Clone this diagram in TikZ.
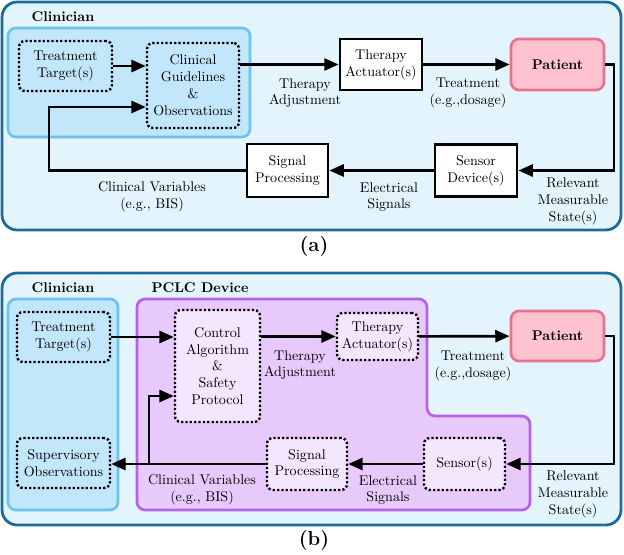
\documentclass[tikz,border=0pt]{standalone}
\usepackage{amsmath}
\usetikzlibrary{arrows.meta,shapes}

\definecolor{panelfill}{HTML}{E3F4FC}
\definecolor{paneledge}{HTML}{1B6C9C}
\definecolor{clinfill}{HTML}{C3E7FA}
\definecolor{clinedge}{HTML}{6DC2EE}
\definecolor{pclcfill}{HTML}{E8C9FB}
\definecolor{pclcedge}{HTML}{B462EA}
\definecolor{innerfill}{HTML}{F4E6FD}
\definecolor{patfill}{HTML}{FFC2CF}
\definecolor{patedge}{HTML}{E9728E}

\begin{document}
\begin{tikzpicture}[x=0.025cm,y=-0.025cm,
    solidbox/.style={draw,line width=1.9pt,fill=white,align=center,inner sep=1pt},
    dotbox/.style={draw,line width=1.7pt,dash pattern=on 1.6pt off 1.5pt,rounded corners=0.15cm,align=center,inner sep=1pt},
    patbox/.style={draw=patedge,fill=patfill,line width=1.9pt,rounded corners=0.2cm,font=\bfseries},
    flow/.style={line width=1.9pt,-{Triangle[length=0.36cm,width=0.3cm]}},
    lbl/.style={align=center,inner sep=0pt}]
\useasboundingbox (0,0) rectangle (624,554);
% ---------------- (a) ----------------
\draw[paneledge,fill=panelfill,line width=2pt,rounded corners=0.38cm] (2,2) rectangle (621,230);
\draw[clinedge,fill=clinfill,line width=1.9pt,rounded corners=0.2cm] (8,28) rectangle (250,137);
\node[lbl,font=\bfseries] (clinA) at (63,17) {Clinician};
\node[dotbox,minimum width=2.325cm,minimum height=1.25cm] (ttA) at (65.5,66) {Treatment\\Target(s)};
\node[dotbox,minimum width=2.3cm,minimum height=2.125cm] (cgA) at (193,85.5) {Clinical\\Guidelines\\\&\\Observations};
\node[solidbox,minimum width=2.05cm,minimum height=1.275cm] (taA) at (381,64.5) {Therapy\\Actuator(s)};
\node[patbox,minimum width=2.325cm,minimum height=1.275cm] (patA) at (557.5,64.5) {Patient};
\node[solidbox,minimum width=2.05cm,minimum height=1.3cm] (sdA) at (476,170.5) {Sensor\\Device(s)};
\node[solidbox,minimum width=2.025cm,minimum height=1.325cm] (spA) at (287.5,170.5) {Signal\\Processing};
\coordinate (turnA) at (614,170.5);
\coordinate (fbA) at (49,107);
\draw[flow] (ttA.east) -- (ttA.east -| cgA.west);
\draw[flow] (taA.west -| cgA.east) -- (taA.west);
\draw[flow] (taA) -- (patA);
\draw[flow] (patA.east) -| (turnA) -- (sdA.east);
\draw[flow] (sdA) -- (spA);
\draw[flow] (spA.west) -| (fbA) -- (fbA -| cgA.west);
\node[lbl] (adjA) at (305,93) {Therapy\\Adjustment};
\node[lbl] (trtA) at (468,93) {Treatment\\(e.g.,dosage)};
\node[lbl] (relA) at (573,201) {Relevant\\Measurable\\State(s)};
\node[lbl] (elecA) at (389,197) {Electrical\\Signals};
\node[lbl] (varA) at (152,197) {Clinical Variables\\(e.g., BIS)};
\node[lbl,font=\Large\bfseries] (capA) at (314,246) {(a)};
% ---------------- (b) ----------------
\draw[paneledge,fill=panelfill,line width=2pt,rounded corners=0.38cm] (2,273) rectangle (621,525);
\draw[clinedge,fill=clinfill,line width=1.9pt,rounded corners=0.2cm] (8,299) rectangle (118,510);
\draw[pclcedge,fill=pclcfill,line width=1.9pt,rounded corners=0.2cm] (137,299) -- (427,299) -- (427,416) -- (530,416) -- (530,510) -- (137,510) -- cycle;
\node[lbl,font=\bfseries] (clinB) at (63,288) {Clinician};
\node[lbl,font=\bfseries] (pclcB) at (200,288) {PCLC Device};
\node[dotbox,minimum width=2.325cm,minimum height=1.25cm] (ttB) at (63.5,337) {Treatment\\Target(s)};
\node[dotbox,minimum width=2.325cm,minimum height=1.25cm] (svB) at (63.5,463) {Supervisory\\Observations};
\node[dotbox,fill=innerfill,minimum width=2.125cm,minimum height=2.8cm] (caB) at (217.5,366) {Control\\Algorithm\\\&\\Safety\\Protocol};
\node[dotbox,fill=innerfill,minimum width=2.025cm,minimum height=1.175cm] (taB) at (377.5,336.5) {Therapy\\Actuator(s)};
\node[patbox,minimum width=2.325cm,minimum height=1.25cm] (patB) at (557.5,336) {Patient};
\node[dotbox,fill=innerfill,minimum width=2.025cm,minimum height=1.3cm] (snB) at (464.5,464) {Sensor(s)};
\node[dotbox,fill=innerfill,minimum width=2.0cm,minimum height=1.3cm] (spB) at (307,464) {Signal\\Processing};
\coordinate (turnB) at (614,464);
\coordinate (brB) at (149,464);
\coordinate (upB) at (149,396);
\draw[flow] (ttB.east) -- (ttB.east -| caB.west);
\draw[flow] (taB.west -| caB.east) -- (taB.west);
\draw[flow] (taB) -- (patB);
\draw[flow] (patB.east) -| (turnB) -- (snB.east);
\draw[flow] (snB) -- (spB);
\draw[flow] (spB.west) -- (spB.west -| svB.east);
\draw[flow] (brB) -- (upB) -- (upB -| caB.west);
\node[lbl] (adjB) at (300,365) {Therapy\\Adjustment};
\node[lbl] (trtB) at (473,366) {Treatment\\(e.g.,dosage)};
\node[lbl] (relB) at (573,494) {Relevant\\Measurable\\State(s)};
\node[lbl] (elecB) at (388,490) {Electrical\\Signals};
\node[lbl] (varB) at (202,490) {Clinical Variables\\(e.g., BIS)};
\node[lbl,font=\Large\bfseries] (capB) at (314,540) {(b)};
\end{tikzpicture}
\end{document}
